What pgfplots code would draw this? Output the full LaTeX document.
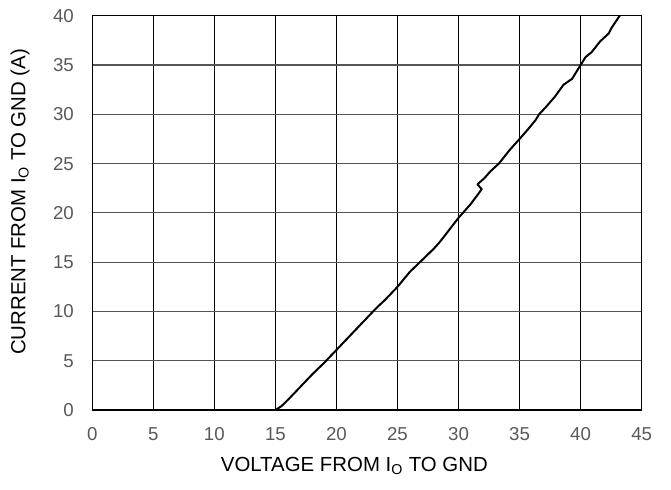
\documentclass[border=0pt]{standalone}
\usepackage{fontspec}
\setmainfont{Liberation Sans}
\usepackage{pgfplots}
\pgfplotsset{compat=1.18}
\definecolor{ticklab}{HTML}{595959}
\definecolor{hgrid}{HTML}{555555}
\begin{document}
\fontsize{14pt}{16pt}\selectfont
\begin{tikzpicture}
\begin{axis}[
  name=ax,
  scale only axis,
  width=412pt, height=295.7pt,
  xmin=0, xmax=45, ymin=0, ymax=40,
  xtick={0,5,...,45}, ytick={0,5,...,40},
  major tick length=0pt,
  /pgf/number format/assume math mode=true,
  tick label style={text=ticklab, font=\fontsize{14pt}{16pt}\selectfont},
  xticklabel style={yshift=-8pt},
  yticklabel style={xshift=-9pt},
  axis line style={black, line width=1pt},
  xmajorgrids, ymajorgrids,
  x grid style={black, line width=1pt},
  y grid style={hgrid, line width=0.8pt},
  label style={font=\fontsize{15.3pt}{17pt}\selectfont, text=black},
  xlabel={VOLTAGE FROM I\textsubscript{O} TO GND},
  ylabel={CURRENT FROM I\textsubscript{O} TO GND (A)},
  xlabel style={at={(axis description cs:0.477,-0.142)}, anchor=center},
  ylabel style={at={(axis description cs:-0.1316,0.528)}, anchor=center},
  clip=true,
]
\addplot[black, line width=1.5pt, line join=round] coordinates {
(0,0) (15,0) (15.5,0.4) (16,1.0) (17,2.3) (18,3.6) (19,4.8) (20,6.1)
(21,7.4) (22,8.7) (23,10.0) (23.4,10.5) (24,11.2) (25,12.5) (26,14.0)
(27,15.2) (28,16.4) (28.5,17.1) (29,17.9) (30,19.5) (31,20.9) (31.9,22.4)
(31.55,22.9) (32.1,23.5) (32.6,24.2) (33.3,25.0) (34.2,26.4) (35,27.5)
(35.7,28.5) (36.3,29.4) (36.6,30.0) (37.2,30.8) (37.9,31.8) (38.6,33.0)
(39.3,33.6) (40.0,35.0) (40.4,35.8) (40.9,36.3) (41.6,37.4) (42.3,38.2)
(42.5,38.7) (43.2,40) (43.4,40.3)
};
\end{axis}
\pgfresetboundingbox
\path[use as bounding box] ([shift={(-69.2pt,-59.25pt)}]ax.south west) rectangle ([shift={(22pt,11.8pt)}]ax.north east);
\end{tikzpicture}
\end{document}
